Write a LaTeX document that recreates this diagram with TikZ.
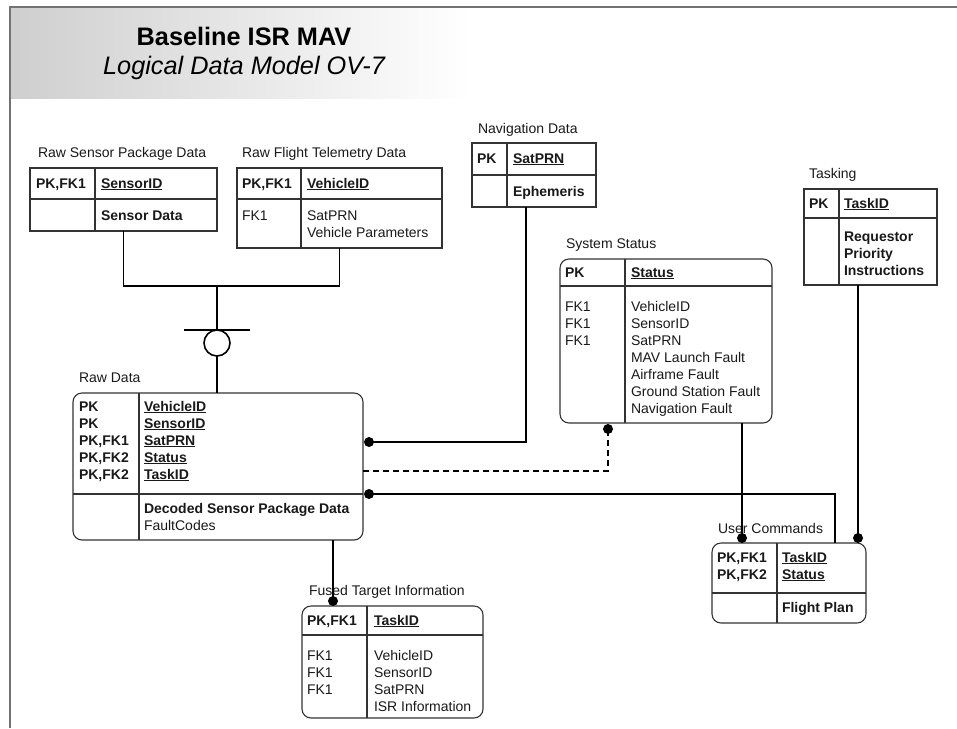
\documentclass[tikz,border=0pt]{standalone}
\usepackage{fontspec}
\setmainfont{Liberation Sans}
\usetikzlibrary{calc}
\newcommand\rws[1]{\begin{tabular}[t]{@{}l@{}}#1\end{tabular}}
\newcommand\uln[1]{\setbox0\hbox{#1}\rlap{\rule[-2.2pt]{\wd0}{1.1pt}}\box0}
\begin{document}
\begin{tikzpicture}[x=1pt,y=-1pt,
  txt/.style={anchor=base west, inner sep=0pt, outer sep=0pt, font=\fontsize{14}{17}\selectfont, text=black!90},
  btxt/.style={txt, font=\fontsize{14}{17}\selectfont\bfseries},
  entity/.style={draw=black!80, line width=1.1pt, anchor=north west, inner sep=0pt, outer sep=0pt},
  rentity/.style={entity, rounded corners=9pt},
  divline/.style={draw=black!80, line width=1.1pt},
  conn/.style={line width=1.8pt, black},
  dashconn/.style={line width=1.6pt, black, dash pattern=on 6pt off 4pt},
  ]
\useasboundingbox (0,0) rectangle (957,728);
% header band and frame
\fill[left color=black!19, right color=white] (10,8) rectangle (470,98);
\draw[black!55, line width=1.6pt] (10,728) -- (10,7) -- (957,7);
\node[anchor=base, inner sep=0pt, font=\fontsize{25.3}{29}\selectfont\bfseries] (title) at (244,45) {Baseline ISR MAV};
\node[anchor=base, inner sep=0pt, font=\fontsize{25.3}{29}\selectfont\itshape] (subtitle) at (244,74) {Logical Data Model OV-7};

% ---------- Raw Sensor Package Data
\node[txt] (rsl) at (38,157) {Raw Sensor Package Data};
\node[entity, minimum width=187pt, minimum height=63pt] (rs) at (30,168) {};
\draw[divline] (rs.west |- 0,199) -- (rs.east |- 0,199);
\draw[divline] (95,0 |- rs.north) -- (95,0 |- rs.south);
\node[btxt] (rsk) at (36,188) {PK,FK1};
\node[btxt] (rsf) at (101,188) {\uln{SensorID}};
\node[btxt] (rsa) at (101,220) {Sensor Data};

% ---------- Raw Flight Telemetry Data
\node[txt] (rfl) at (242,157) {Raw Flight Telemetry Data};
\node[entity, minimum width=205pt, minimum height=80pt] (rf) at (237,168) {};
\draw[divline] (rf.west |- 0,199) -- (rf.east |- 0,199);
\draw[divline] (301,0 |- rf.north) -- (301,0 |- rf.south);
\node[btxt] (rfk) at (242,188) {PK,FK1};
\node[btxt] (rff) at (307,188) {\uln{VehicleID}};
\node[txt] (rfk2) at (242,220) {FK1};
\node[txt] (rfa) at (307,220) {\rws{SatPRN\\Vehicle Parameters}};

% ---------- Navigation Data
\node[txt] (navl) at (478,133) {Navigation Data};
\node[entity, minimum width=124pt, minimum height=64pt] (nav) at (472,143) {};
\draw[divline] (nav.west |- 0,175) -- (nav.east |- 0,175);
\draw[divline] (507,0 |- nav.north) -- (507,0 |- nav.south);
\node[btxt] (navk) at (477,163) {PK};
\node[btxt] (navf) at (513,163) {\uln{SatPRN}};
\node[btxt] (nava) at (513,196) {Ephemeris};

% ---------- Tasking
\node[txt] (taskl) at (809,178) {Tasking};
\node[entity, minimum width=133pt, minimum height=96pt] (task) at (804,189) {};
\draw[divline] (task.west |- 0,218) -- (task.east |- 0,218);
\draw[divline] (839,0 |- task.north) -- (839,0 |- task.south);
\node[btxt] (taskk) at (809,208) {PK};
\node[btxt] (taskf) at (844,208) {\uln{TaskID}};
\node[btxt] (taska) at (844,241) {\rws{Requestor\\Priority\\Instructions}};

% ---------- System Status
\node[txt] (ssl) at (566,248) {System Status};
\node[rentity, minimum width=212pt, minimum height=164pt] (ss) at (560,259) {};
\draw[divline] (ss.west |- 0,286) -- (ss.east |- 0,286);
\draw[divline] (625,0 |- ss.north) -- (625,0 |- ss.south);
\node[btxt] (ssk) at (565,277) {PK};
\node[btxt] (ssf) at (631,277) {\uln{Status}};
\node[txt] (ssk2) at (565,311) {\rws{FK1\\FK1\\FK1}};
\node[txt] (ssa) at (631,311) {\rws{VehicleID\\SensorID\\SatPRN\\MAV Launch Fault\\Airframe Fault\\Ground Station Fault\\Navigation Fault}};

% ---------- Raw Data
\node[txt] (rdl) at (79,382) {Raw Data};
\node[rentity, minimum width=290pt, minimum height=147pt] (rd) at (73,393) {};
\draw[divline] (rd.west |- 0,494) -- (rd.east |- 0,494);
\draw[divline] (139,0 |- rd.north) -- (139,0 |- rd.south);
\node[btxt] (rdk) at (79,411) {\rws{PK\\PK\\PK,FK1\\PK,FK2\\PK,FK2}};
\node[btxt] (rdf) at (144,411) {\rws{\uln{VehicleID}\\\uln{SensorID}\\\uln{SatPRN}\\\uln{Status}\\\uln{TaskID}}};
\node[btxt] (rda) at (144,513) {Decoded Sensor Package Data};
\node[txt] (rdb) at (144,530) {FaultCodes};

% ---------- Fused Target Information
\node[txt] (ftl) at (309,595) {Fused Target Information};
\node[rentity, minimum width=181pt, minimum height=112pt] (ft) at (302,606) {};
\draw[divline] (ft.west |- 0,635) -- (ft.east |- 0,635);
\draw[divline] (367,0 |- ft.north) -- (367,0 |- ft.south);
\node[btxt] (ftk) at (307,625) {PK,FK1};
\node[btxt] (ftf) at (374,625) {\uln{TaskID}};
\node[txt] (ftk2) at (307,660) {\rws{FK1\\FK1\\FK1}};
\node[txt] (fta) at (374,660) {\rws{VehicleID\\SensorID\\SatPRN\\ISR Information}};

% ---------- User Commands
\node[txt] (ucl) at (718,533) {User Commands};
\node[rentity, minimum width=154pt, minimum height=80pt] (uc) at (712,543) {};
\draw[divline] (uc.west |- 0,593) -- (uc.east |- 0,593);
\draw[divline] (777,0 |- uc.north) -- (777,0 |- uc.south);
\node[btxt] (uck) at (717,562) {\rws{PK,FK1\\PK,FK2}};
\node[btxt] (ucf) at (782,562) {\rws{\uln{TaskID}\\\uln{Status}}};
\node[btxt] (uca) at (782,612) {Flight Plan};

% ---------- connectors
\draw[conn] (rs.south) -- (rs.south |- 0,286) -- (rf.south |- 0,286) -- (rf.south);
\node[circle, draw, line width=1.6pt, minimum size=26pt, inner sep=0pt, outer sep=0pt] (zero) at (217,343) {};
\draw[conn] (zero.north |- 0,286) -- (zero.north);
\draw[conn] ($(zero.north)+(-33,0)$) -- ($(zero.north)+(33,0)$);
\draw[conn] (zero.south) -- (zero.south |- rd.north);

% Navigation -> Raw Data
\coordinate (dA) at ($(rd.east |- 0,442)+(6,0)$);
\draw[conn] ([xshift=-8pt]nav.south) |- (dA);
\fill (dA) circle (5);
% Raw Data - - System Status
\coordinate (dB) at ($(ss.south)+(-58,6)$);
\draw[dashconn] (rd.east |- 0,471) -| (dB);
\fill (dB) circle (5);
% Raw Data -> User Commands
\coordinate (dC) at ($(rd.east |- 0,494)+(6,0)$);
\draw[conn] (dC) -| ($(uc.north)+(46,0)$);
\fill (dC) circle (5);
% System Status -> User Commands
\coordinate (dD) at ($(uc.north)+(-47,-5)$);
\draw[conn] (dD |- ss.south) -- (dD);
\fill (dD) circle (5);
% Tasking -> User Commands
\coordinate (dE) at ($(uc.north)+(69,-5)$);
\draw[conn] (dE |- task.south) -- (dE);
\fill (dE) circle (5);
% Raw Data -> Fused Target
\coordinate (dF) at ($(ft.north west)+(31,-5)$);
\draw[conn] (dF |- rd.south) -- (dF);
\fill (dF) circle (5);
\end{tikzpicture}
\end{document}
